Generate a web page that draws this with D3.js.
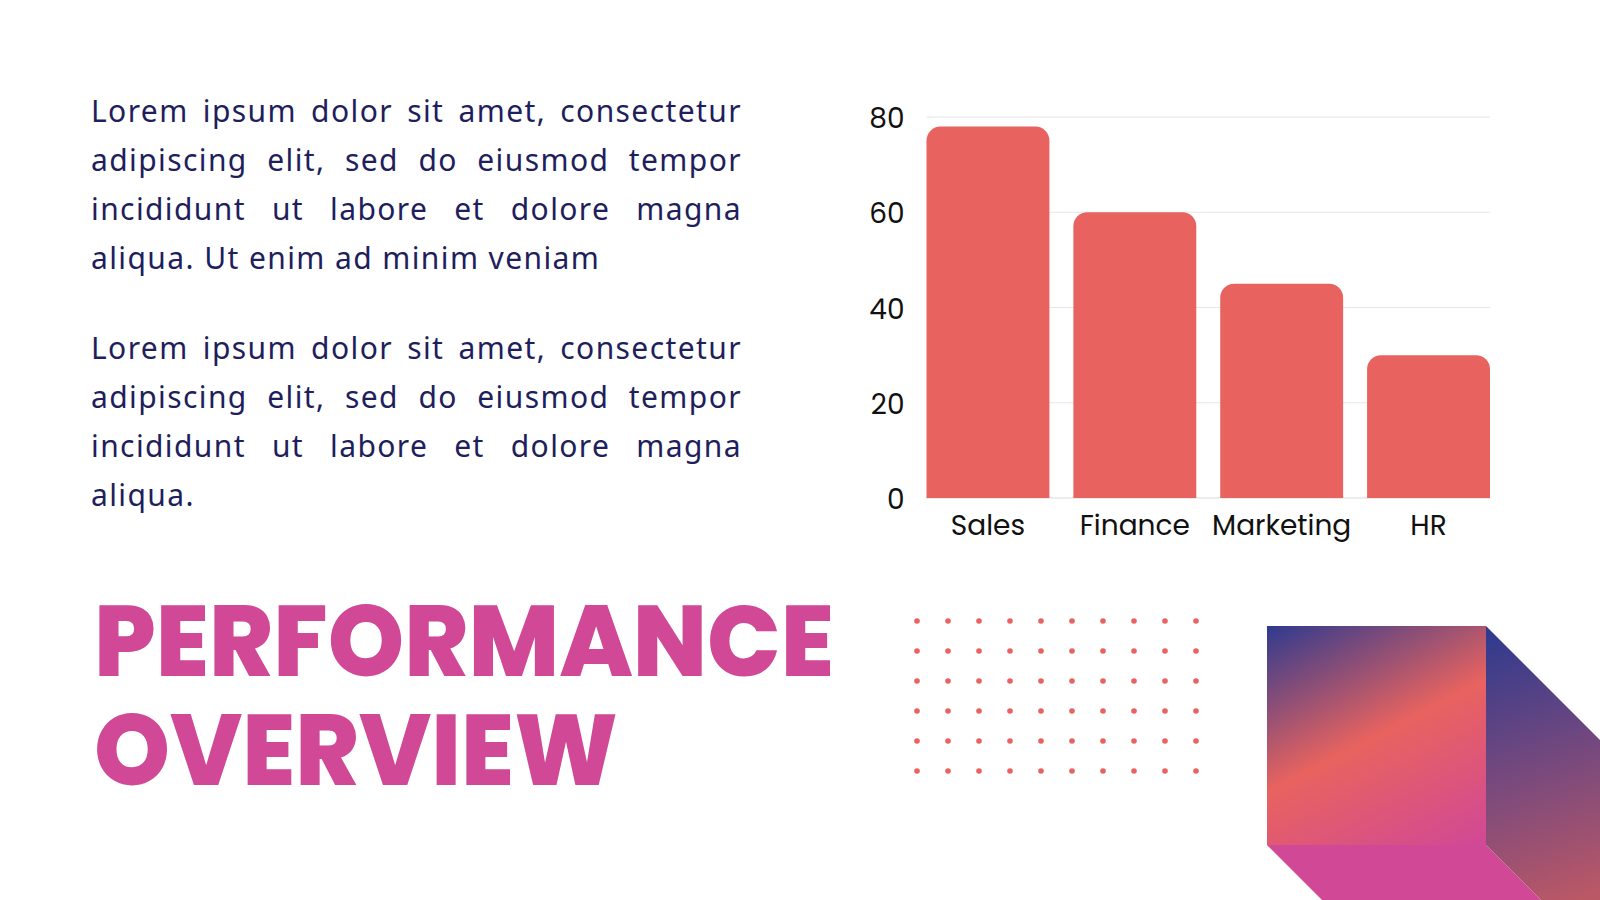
<!DOCTYPE html>
<html>
<head>
<meta charset="utf-8">
<script src="https://cdn.jsdelivr.net/npm/d3@7"></script>
<style>
  body { margin: 0; background: #ffffff; }
  svg { display: block; }
</style>
</head>
<body>
<svg id="slide"></svg>
<script>
// Chart data
const departments = ["Sales", "Finance", "Marketing", "HR"];
const scores = [78, 60, 45, 30];
const yTicks = [0, 20, 40, 60, 80];

// Slide texts
const paragraphOne = [
  "Lorem ipsum dolor sit amet, consectetur",
  "adipiscing elit, sed do eiusmod tempor",
  "incididunt ut labore et dolore magna",
  "aliqua. Ut enim ad minim veniam"
];
const paragraphTwo = [
  "Lorem ipsum dolor sit amet, consectetur",
  "adipiscing elit, sed do eiusmod tempor",
  "incididunt ut labore et dolore magna",
  "aliqua."
];
const titleLines = ["PERFORMANCE", "OVERVIEW"];

const width = 1600, height = 900;
const coral = "#e8635f", navy = "#2f3a8e", magenta = "#d14896";

const svg = d3.select("#slide")
    .attr("width", width)
    .attr("height", height)
    .style("background", "#ffffff");

// ---- paragraphs (justified line by line) ----
const textLeft = 91, textRight = 742;

function drawParagraph(lines, firstBaseline) {
  lines.forEach(function(line, i) {
    const t = svg.append("text")
        .attr("x", textLeft)
        .attr("y", firstBaseline + i * 49)
        .style("font-family", "'Noto Sans', sans-serif")
        .style("font-size", "30px")
        .style("letter-spacing", "1.4px")
        .style("fill", "#211e5c")
        .text(line);
    // last line stays left aligned
    if (i < lines.length - 1) {
      const gaps = line.split(" ").length - 1;
      const natural = t.node().getComputedTextLength();
      t.style("word-spacing", ((textRight - textLeft - natural) / gaps) + "px");
    }
  });
}
drawParagraph(paragraphOne, 122);
drawParagraph(paragraphTwo, 359);

// ---- title ----
svg.selectAll(".title")
    .data(titleLines)
    .enter().append("text")
    .attr("class", "title")
    .attr("x", 94)
    .attr("y", (d, i) => 676 + i * 109)
    .attr("textLength", (d, i) => i === 0 ? 740 : 524)
    .attr("lengthAdjust", "spacingAndGlyphs")
    .style("font-family", "Poppins, Inter, 'Noto Sans', sans-serif")
    .style("font-weight", 800)
    .style("font-size", "100px")
    .style("fill", magenta)
    .text(d => d);

// ---- bar chart ----
const xScale = d3.scaleBand()
    .domain(departments)
    .range([926.5, 1490])
    .paddingInner(0.163)
    .paddingOuter(0);

const yScale = d3.scaleLinear()
    .domain([0, 80])
    .range([498, 117]);

// grid lines
svg.append("g")
    .selectAll("line")
    .data(yTicks)
    .enter().append("line")
    .attr("x1", 926.5)
    .attr("x2", 1490)
    .attr("y1", d => yScale(d))
    .attr("y2", d => yScale(d))
    .attr("stroke", d => d === 0 ? "#d9d9d9" : "#e6e6e6")
    .attr("stroke-width", 1.2);

// bars with rounded tops
function roundedTop(x, y, w, h, r) {
  return `M${x},${y + h}V${y + r}A${r},${r} 0 0 1 ${x + r},${y}` +
         `H${x + w - r}A${r},${r} 0 0 1 ${x + w},${y + r}V${y + h}Z`;
}

svg.append("g")
    .selectAll("path")
    .data(departments)
    .enter().append("path")
    .attr("d", (d, i) => roundedTop(xScale(d), yScale(scores[i]),
        xScale.bandwidth(), yScale(0) - yScale(scores[i]), 14))
    .attr("fill", coral);

// axes
const yAxis = svg.append("g")
    .attr("transform", "translate(926.5,0)")
    .call(d3.axisLeft(yScale).tickValues(yTicks).tickSize(0).tickPadding(22));

const xAxis = svg.append("g")
    .attr("transform", `translate(0,${yScale(0)})`)
    .call(d3.axisBottom(xScale).tickSize(0).tickPadding(13));

[yAxis, xAxis].forEach(function(ax) {
  ax.select(".domain").remove();
  ax.selectAll("text")
      .style("font-family", "Poppins, 'Noto Sans', sans-serif")
      .style("font-size", "28px")
      .style("fill", "#111111");
});
yAxis.selectAll("text").attr("dy", "0.38em");
xAxis.selectAll("text").attr("dy", "0.85em");

// ---- dot grid ----
const dotCols = d3.range(10), dotRows = d3.range(6);
svg.append("g")
    .selectAll("circle")
    .data(d3.cross(dotCols, dotRows))
    .enter().append("circle")
    .attr("cx", d => 917 + d[0] * 31)
    .attr("cy", d => 621 + d[1] * 30)
    .attr("r", 2.8)
    .attr("fill", coral);

// ---- cube decoration ----
const defs = svg.append("defs");

const frontGrad = defs.append("linearGradient")
    .attr("id", "frontGrad")
    .attr("gradientUnits", "userSpaceOnUse")
    .attr("x1", 1267).attr("y1", 626)
    .attr("x2", 1402).attr("y2", 888);
frontGrad.append("stop").attr("offset", "0%").attr("stop-color", navy);
frontGrad.append("stop").attr("offset", "50%").attr("stop-color", coral);
frontGrad.append("stop").attr("offset", "100%").attr("stop-color", magenta);

const sideGrad = defs.append("linearGradient")
    .attr("id", "sideGrad")
    .attr("gradientUnits", "userSpaceOnUse")
    .attr("x1", 1490).attr("y1", 630)
    .attr("x2", 1580).attr("y2", 900);
sideGrad.append("stop").attr("offset", "0%").attr("stop-color", navy);
sideGrad.append("stop").attr("offset", "55%").attr("stop-color", "#7c4a7c");
sideGrad.append("stop").attr("offset", "100%").attr("stop-color", "#bb5866");

const cx0 = 1267, cy0 = 626, side = 219, depth = 320;

// bottom face
svg.append("path")
    .attr("d", `M${cx0},${cy0 + side}H${cx0 + side}L${cx0 + side + depth},${cy0 + side + depth}` +
               `H${cx0 + depth}Z`)
    .attr("fill", magenta);

// right face
svg.append("path")
    .attr("d", `M${cx0 + side},${cy0}L${cx0 + side + depth},${cy0 + depth}` +
               `V${cy0 + side + depth}L${cx0 + side},${cy0 + side}Z`)
    .attr("fill", "url(#sideGrad)");

// front face
svg.append("rect")
    .attr("x", cx0)
    .attr("y", cy0)
    .attr("width", side)
    .attr("height", side)
    .attr("fill", "url(#frontGrad)");
</script>
</body>
</html>
